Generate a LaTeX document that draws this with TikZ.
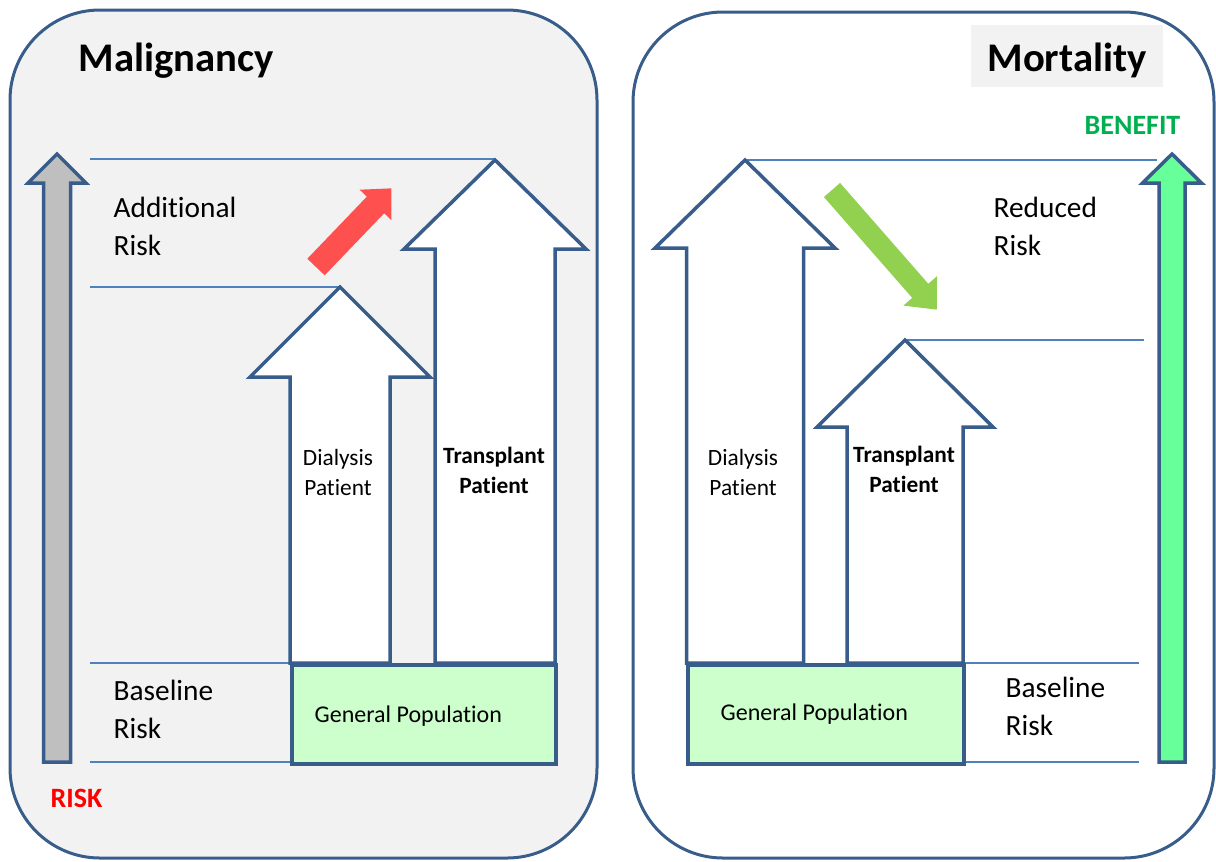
\documentclass[tikz,border=0pt]{standalone}
\usepackage{fontspec}
\setmainfont{Carlito}[Ligatures=NoCommon]
\usepackage{tikz}
\usetikzlibrary{positioning}

\definecolor{edgeblue}{HTML}{385D8A}
\definecolor{guideblue}{HTML}{4F81BD}
\definecolor{panelgrey}{HTML}{F2F2F2}
\definecolor{scalegrey}{HTML}{BFBFBF}
\definecolor{scalegreen}{HTML}{66FF99}
\definecolor{popgreen}{HTML}{CCFFCC}
\definecolor{riskred}{HTML}{FF5050}
\definecolor{dropgreen}{HTML}{92D050}
\definecolor{benefitgreen}{HTML}{00B050}

% block arrow pointing up: style, centre x, tip y, wing y, foot y, head half width, shaft half width
\newcommand{\uparr}[7]{%
  \draw[#1] (#2-#7,#5) -- (#2-#7,#4) -- (#2-#6,#4) -- (#2,#3)
    -- (#2+#6,#4) -- (#2+#7,#4) -- (#2+#7,#5) -- cycle;}

\begin{document}
\begin{tikzpicture}[x=0.3pt, y=-0.3pt,
  panel/.style={draw=edgeblue, line width=0.9pt, rounded corners=27pt},
  guideline/.style={draw=guideblue, line width=0.45pt},
  bigarrow/.style={draw=edgeblue, fill=white, line width=1.05pt},
  popbox/.style={draw=edgeblue, fill=popgreen, line width=1.1pt, inner sep=0pt,
    minimum height=29.7pt, anchor=north west},
  sidelbl/.style={inner sep=0pt, align=left, anchor=base west,
    font=\fontsize{8.8}{11.4}\selectfont},
  ptlbl/.style={inner sep=0pt, align=center, anchor=base,
    font=\fontsize{7}{9}\selectfont},
  poplbl/.style={inner sep=0pt, anchor=base west, font=\fontsize{7.2}{9}\selectfont},
  titlelbl/.style={inner sep=0pt, font=\fontsize{12.2}{14}\selectfont\bfseries},
  scalelbl/.style={inner sep=0pt, anchor=base west, font=\fontsize{8.4}{10}\selectfont\bfseries}]
  \useasboundingbox (0,0) rectangle (1216,861);

  % panels
  \draw[panel, fill=panelgrey] (10,10) rectangle (597,858);
  \draw[panel, fill=white] (633,12) rectangle (1214,858);

  % guide lines
  \foreach \yy/\xa/\xb in {159/90/494, 287/90/340, 663/90/290, 762/90/290,
                           160/745/1157, 340/905/1144, 663/962/1139, 762/962/1139}
    \draw[guideline] (\xa,\yy) -- (\xb,\yy);

  % scale arrows
  \uparr{bigarrow, fill=scalegrey}{57}{154}{183}{762}{29}{13.5}
  \uparr{bigarrow, fill=scalegreen}{1172}{154}{183}{762}{29.5}{13}

  % patient arrows
  \uparr{bigarrow}{340}{287}{377}{663}{90}{50}
  \uparr{bigarrow}{495}{160}{249}{663}{91}{60}
  \uparr{bigarrow}{745}{160}{248}{663}{90}{58.5}
  \uparr{bigarrow}{905}{340}{427}{663}{88}{58}

  % general population boxes
  \node[popbox, minimum width=79.2pt] (popL) at (290,663) {};
  \node[popbox, minimum width=82.8pt] (popR) at (686,663) {};
  \node[poplbl] (popLtxt) at (314,722) {General Population};
  \node[poplbl] (popRtxt) at (720,720) {General Population};

  % trend arrows
  \begin{scope}[shift={(316,267)}, rotate=46.2]
    \fill[riskred] (0,-12) -- (86,-12) -- (86,-22) -- (109,0) -- (86,22) -- (86,12) -- (0,12) -- cycle;
  \end{scope}
  \begin{scope}[shift={(832,190)}, rotate=-48.8]
    \fill[dropgreen] (0,-10.7) -- (134,-10.7) -- (134,-22.4) -- (159,0) -- (134,22.4) -- (134,10.7) -- (0,10.7) -- cycle;
  \end{scope}

  % titles
  \node[titlelbl, anchor=base west] (malig) at (78,71) {Malignancy};
  \node[titlelbl, fill=panelgrey, minimum width=57.6pt, minimum height=18.6pt,
    text height=9pt, text depth=0pt] (mort) at (1067,56) {Mortality};

  % risk labels (base = last line)
  \node[sidelbl] (addrisk) at (113,255) {Additional\\Risk};
  \node[sidelbl] (baseL) at (113,738) {Baseline\\Risk};
  \node[sidelbl] (redrisk) at (993,255) {Reduced\\Risk};
  \node[sidelbl] (baseR) at (1005,735) {Baseline\\Risk};
  \node[scalelbl, text=red] (risk) at (50,807) {RISK};
  \node[scalelbl, text=benefitgreen] (benefit) at (1084,134) {BENEFIT};

  % patient labels
  \node[ptlbl] (dialL) at (338,495) {Dialysis\\Patient};
  \node[ptlbl, font=\fontsize{7}{9}\selectfont\bfseries] (transL) at (494,493) {Transplant\\Patient};
  \node[ptlbl] (dialR) at (743,495) {Dialysis\\Patient};
  \node[ptlbl, font=\fontsize{7}{9}\selectfont\bfseries] (transR) at (904,492) {Transplant\\Patient};
\end{tikzpicture}
\end{document}
